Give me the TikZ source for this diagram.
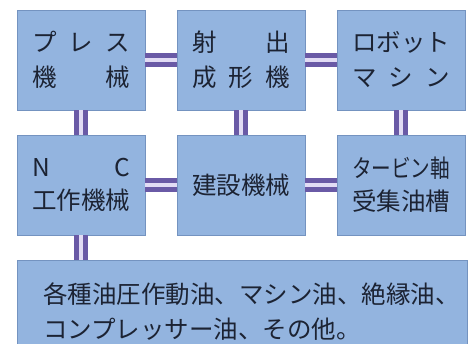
\documentclass[tikz,border=0pt]{standalone}
\usepackage{fontspec}
\setmainfont{Noto Sans CJK JP}
\usepackage{tikz}
\definecolor{boxblue}{HTML}{93B4DF}
\definecolor{boxedge}{HTML}{7493C0}
\definecolor{linkpurple}{HTML}{6A5AA6}
\definecolor{linklight}{HTML}{E2DCF4}
\definecolor{inkdark}{HTML}{1C2333}
\newcommand{\spread}[1]{\makebox[98pt][s]{#1}}

\begin{document}
\begin{tikzpicture}[x=1pt,y=-1pt]
		\useasboundingbox (0,0) rectangle (473,343);
		\begin{scope}[every node/.style={rectangle,draw=boxedge,fill=boxblue,line width=0.8pt,
		              minimum width=128pt,minimum height=100pt,inner sep=0pt,align=center,
		              text=inkdark,font=\fontsize{24.5pt}{35pt}\selectfont}]
		    \node (press) at (81,60) {\spread{プ\hfill レ\hfill ス}\\\spread{機\hfill 械}};
		    \node (inject) at (241,60) {\spread{射\hfill 出}\\\spread{成\hfill 形\hfill 機}};
		    \node (robot) at (401,60) {\spread{ロボット}\\\spread{マ\hfill シ\hfill ン}};
		    \node[font=\fontsize{24.5pt}{33pt}\selectfont] (nc) at (81,185) {\spread{N\hfill C}\\工作機械};
		    \node (build) at (241,185) {建設機械};
		    \node[font=\fontsize{24.5pt}{33pt}\selectfont] (turbine) at (401,185) {\scalebox{0.8}[1]{タービン軸}\\受集油槽};
		    \node[minimum width=450pt,minimum height=104pt,text width=398pt,align=left] (oils) at (242,312)
		          {\mbox{各種油圧作動油、マシン油、絶縁油、}\\\mbox{コンプレッサー油、その他。}};
		\end{scope}

		\begin{scope}[every edge/.style={draw=linkpurple,line width=5pt,
		              double=linklight,double distance=4pt}]
		    \path (press) edge (inject);
		    \path (inject) edge (robot);
		    \path (press) edge (nc);
		    \path (inject) edge (build);
		    \path (robot) edge (turbine);
		    \path (nc) edge (build);
		    \path (build) edge (turbine);
		    \path (nc) edge (nc.south |- oils.north);
		\end{scope}
\end{tikzpicture}
\end{document}
